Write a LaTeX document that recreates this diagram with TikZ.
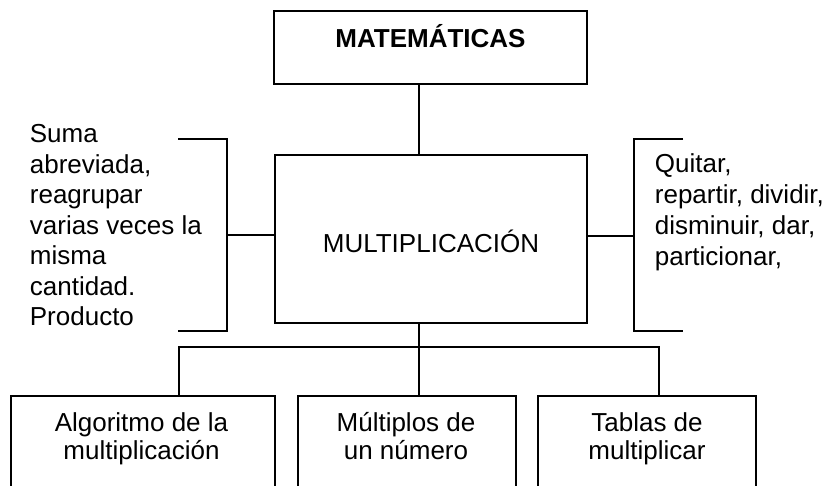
\documentclass[tikz,border=0pt]{standalone}
\usepackage{fontspec}
\setmainfont{Liberation Sans}
\begin{document}
\begin{tikzpicture}[x=1pt,y=-1pt,line width=1.8pt,
  txt/.style={font=\fontsize{26}{31}\selectfont,inner sep=0pt},
  box/.style={draw,inner sep=0pt}]
\useasboundingbox (0,0) rectangle (834,485);
\clip (0,0) rectangle (834,485);
% main boxes
\node[box,txt,font=\fontsize{26}{31}\selectfont\bfseries,minimum width=313pt,
      text height=36pt,text depth=37pt,anchor=base] (mat) at (430.5,47) {MATEMÁTICAS};
\node[box,txt,minimum width=312pt,text height=97pt,text depth=71pt,anchor=base]
      (mult) at (431,252) {MULTIPLICACIÓN};
% bottom boxes
\node[box,minimum width=264pt,minimum height=110pt,anchor=north] (b1) at (143,395) {};
\node[box,minimum width=218pt,minimum height=110pt,anchor=north] (b2) at (407,395) {};
\node[box,minimum width=218pt,minimum height=110pt,anchor=north] (b3) at (647,395) {};
\node[txt,font=\fontsize{26}{28}\selectfont,align=center,anchor=north] (t1) at (141.5,407)
      {\rule{0pt}{24pt}Algoritmo de la\\multiplicación};
\node[txt,font=\fontsize{26}{28}\selectfont,align=center,anchor=north] (t2) at (406,407)
      {\rule{0pt}{24pt}Múltiplos de\\un número};
\node[txt,font=\fontsize{26}{28}\selectfont,align=center,anchor=north] (t3) at (647,407)
      {\rule{0pt}{24pt}Tablas de\\multiplicar};
% side texts
\node[txt,font=\fontsize{26}{30.5}\selectfont,align=left,anchor=north west] (lt) at (29,118)
      {\rule{0pt}{24pt}Suma\\abreviada,\\reagrupar\\varias veces la\\misma\\cantidad.\\Producto};
\node[txt,align=left,anchor=north west] (rt) at (654,148)
      {\rule{0pt}{24pt}Quitar,\\repartir, dividir,\\disminuir, dar,\\particionar,};
% coordinates
\coordinate (cx) at (419,0);
\coordinate (jl) at (179,347);
\coordinate (jr) at (659,347);
\coordinate (lb) at (227,235);
\coordinate (rb) at (634,236);
\coordinate (lbt) at (178,139);
\coordinate (lbb) at (178,331);
\coordinate (rbt) at (683,139);
\coordinate (rbb) at (683,331);
% connectors
\draw (cx |- mat.south) -- (cx |- mult.north);
\draw (cx |- mult.south) -- (cx |- b2.north);
\draw (jl |- b1.north) -- (jl) -- (jr) -- (jr |- b3.north);
\draw (lbt) -- (lbt -| lb) -- (lbb -| lb) -- (lbb);
\draw (lb) -- (mult.west |- lb);
\draw (rbt) -- (rbt -| rb) -- (rbb -| rb) -- (rbb);
\draw (rb) -- (mult.east |- rb);
\end{tikzpicture}
\end{document}
